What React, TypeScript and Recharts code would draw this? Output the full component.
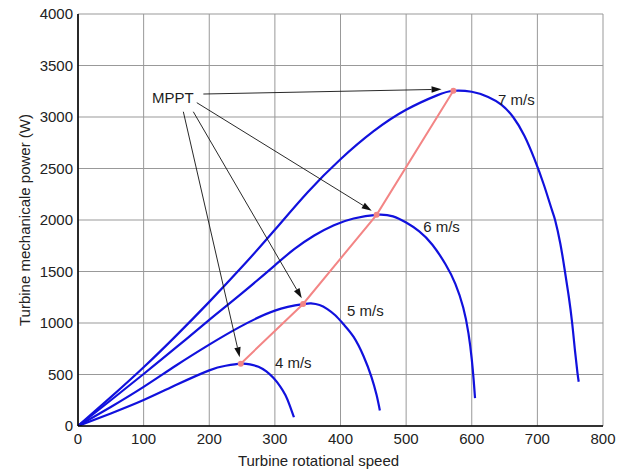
import {
  LineChart,
  Line,
  XAxis,
  YAxis,
  CartesianGrid,
  ReferenceLine,
  ReferenceDot,
} from "recharts";

// axis ticks
const xTicks = [0, 100, 200, 300, 400, 500, 600, 700, 800];
const yTicks = [0, 500, 1000, 1500, 2000, 2500, 3000, 3500, 4000];

// power curves (speed, power W)
const speed4 = [0, 50, 100, 150, 200, 225, 248, 262, 275, 287, 298, 308, 316, 322, 326, 329];
const power4 = [0, 122, 252, 400, 540, 585, 605, 598, 575, 530, 465, 385, 300, 210, 140, 85];

const speed5 = [0, 50, 100, 150, 200, 246, 300, 343, 355, 368, 380, 392, 405, 420, 435, 447, 455, 460];
const power5 = [0, 185, 380, 590, 790, 960, 1120, 1183, 1190, 1175, 1135, 1075, 985, 865, 680, 480, 300, 150];

const speed6 = [0, 50, 100, 150, 200, 250, 300, 330, 360, 390, 420, 455, 480, 500, 520, 540, 560, 575, 587, 595, 600, 603, 605];
const power6 = [0, 250, 505, 765, 1030, 1290, 1560, 1720, 1850, 1950, 2015, 2050, 2035, 1975, 1890, 1760, 1570, 1380, 1150, 900, 650, 440, 270];

const speed7 = [0, 50, 100, 150, 200, 250, 300, 350, 400, 450, 500, 547, 572, 600, 625, 645, 663, 680, 695, 710, 722, 727, 735, 742, 748, 753, 757, 761, 763];
const power7 = [0, 280, 570, 880, 1205, 1545, 1905, 2270, 2590, 2860, 3070, 3210, 3255, 3245, 3195, 3120, 3000, 2820, 2600, 2340, 2100, 2000, 1770, 1500, 1250, 1000, 750, 520, 430];

// maximum power points
const mpptSpeed = [248, 343, 455, 572];
const mpptPower = [605, 1185, 2050, 3255];

// curve labels
const windLabels = ["4 m/s", "5 m/s", "6 m/s", "7 m/s"];
const windLabelSpeed = [300, 410, 526, 640];
const windLabelPower = [563, 1068, 1883, 3117];

// "MPPT" note and its arrows
const noteSpeed = 112.8;
const notePower = 3133;
const arrowFromSpeed = [160.5, 175.7, 181, 191];
const arrowFromPower = [3051, 3051, 3139, 3223];
const arrowToSpeed = [246.4, 341, 447.5, 554];
const arrowToPower = [667, 1240, 2090, 3269];

const BLUE = "#1111dd";
const PINK = "#f38585";
const FONT = "'Liberation Sans', Arial, Helvetica, sans-serif";

const toRows = (xs: number[], ys: number[]) =>
  xs.map((s, i) => ({ speed: s, power: ys[i] }));

const curves = [
  toRows(speed4, power4),
  toRows(speed5, power5),
  toRows(speed6, power6),
  toRows(speed7, power7),
];
const mpptRows = toRows(mpptSpeed, mpptPower);

function Arrow(props: any) {
  const { x1, y1, x2, y2 } = props;
  if ([x1, y1, x2, y2].some((v) => typeof v !== "number")) return null;
  const ang = Math.atan2(y2 - y1, x2 - x1);
  const len = 10;
  const half = 3.2;
  const bx = x2 - len * Math.cos(ang);
  const by = y2 - len * Math.sin(ang);
  const px = -Math.sin(ang) * half;
  const py = Math.cos(ang) * half;
  return (
    <g>
      <line x1={x1} y1={y1} x2={bx} y2={by} stroke="#111" strokeWidth={0.9} />
      <polygon
        points={`${x2},${y2} ${bx + px},${by + py} ${bx - px},${by - py}`}
        fill="#111"
      />
    </g>
  );
}

function textShape(label: string) {
  return (p: any) => (
    <text x={p.cx} y={p.cy} fontSize={15} fill="#1e1e1e" textAnchor="start">
      {label}
    </text>
  );
}

const frameLine = { stroke: "#000", strokeWidth: 1.6 };

export default function App() {
  return (
    <div
      style={{
        position: "absolute",
        left: 0,
        top: 0,
        width: 627,
        height: 470,
        background: "#fff",
        fontFamily: FONT,
      }}
    >
      <LineChart
        width={627}
        height={470}
        margin={{ top: 14, right: 24, bottom: 0, left: 0 }}
      >
        <CartesianGrid stroke="#999" strokeWidth={1} />
        <XAxis
          type="number"
          dataKey="speed"
          domain={[0, 800]}
          ticks={xTicks}
          allowDataOverflow
          axisLine={frameLine}
          tickLine={false}
          tickSize={0}
          tickMargin={7}
          height={44}
          tick={{ fontSize: 15, fill: "#222" }}
          label={{
            value: "Turbine rotational speed",
            position: "insideBottom",
            offset: 4,
            dx: -22,
            style: { fontSize: 15, fill: "#222" },
          }}
        />
        <XAxis
          xAxisId="top"
          orientation="top"
          type="number"
          domain={[0, 800]}
          ticks={xTicks}
          height={0}
          tick={false}
          tickLine={false}
          axisLine={frameLine}
        />
        <YAxis
          type="number"
          dataKey="power"
          domain={[0, 4000]}
          ticks={yTicks}
          allowDataOverflow
          axisLine={frameLine}
          tickLine={false}
          tickSize={0}
          tickMargin={5}
          width={78}
          tick={{ fontSize: 15, fill: "#222" }}
          label={{
            value: "Turbine mechanicale power (W)",
            angle: -90,
            position: "insideLeft",
            offset: 25,
            style: { fontSize: 15, fill: "#222", textAnchor: "middle" },
          }}
        />
        <YAxis
          yAxisId="right"
          orientation="right"
          type="number"
          domain={[0, 4000]}
          ticks={yTicks}
          width={0}
          tick={false}
          tickLine={false}
          axisLine={frameLine}
        />
        {curves.map((rows, i) => (
          <Line
            key={windLabels[i]}
            data={rows}
            dataKey="power"
            type="natural"
            stroke={BLUE}
            strokeWidth={2.2}
            dot={false}
            activeDot={false}
            isAnimationActive={false}
          />
        ))}
        <Line
          data={mpptRows}
          dataKey="power"
          type="linear"
          stroke={PINK}
          strokeWidth={2}
          dot={{ r: 3, fill: PINK, stroke: "none" }}
          activeDot={false}
          isAnimationActive={false}
        />
        {arrowToSpeed.map((s, i) => (
          <ReferenceLine
            key={`arrow-${i}`}
            segment={[
              { x: arrowFromSpeed[i], y: arrowFromPower[i] },
              { x: s, y: arrowToPower[i] },
            ]}
            ifOverflow="visible"
            shape={(p: any) => <Arrow {...p} />}
          />
        ))}
        <ReferenceDot
          x={noteSpeed}
          y={notePower}
          r={1}
          ifOverflow="visible"
          shape={textShape("MPPT")}
        />
        {windLabels.map((w, i) => (
          <ReferenceDot
            key={w}
            x={windLabelSpeed[i]}
            y={windLabelPower[i]}
            r={1}
            ifOverflow="visible"
            shape={textShape(w)}
          />
        ))}
      </LineChart>
    </div>
  );
}
